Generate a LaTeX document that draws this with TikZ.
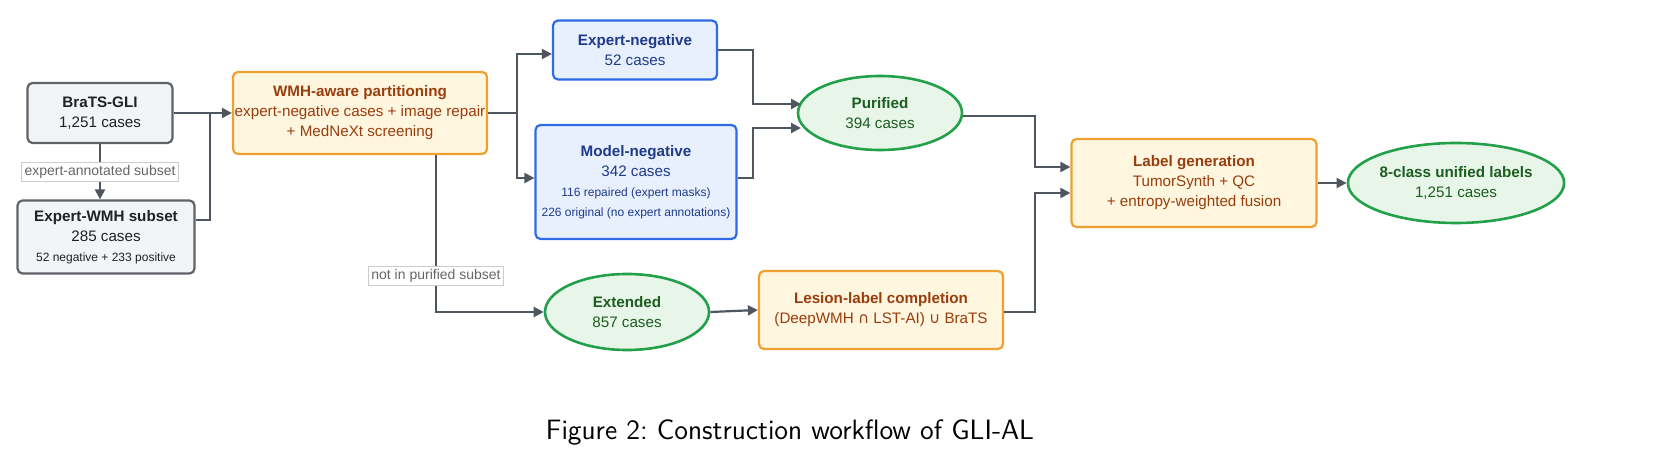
\documentclass[tikz,border=0pt]{standalone}
\usepackage{fontspec}
\setmainfont{Liberation Sans}
\newfontfamily\djv{DejaVu Sans}
\usetikzlibrary{arrows.meta,shapes.geometric}
\definecolor{gline}{HTML}{5F6368}
\definecolor{gfill}{HTML}{F3F4F6}
\definecolor{gtext}{HTML}{202124}
\definecolor{oline}{HTML}{F0A030}
\definecolor{ofill}{HTML}{FEF6DE}
\definecolor{otext}{HTML}{9A3D0E}
\definecolor{bline}{HTML}{2F6BE6}
\definecolor{bfill}{HTML}{E8F0FE}
\definecolor{btext}{HTML}{1E3A8A}
\definecolor{eline}{HTML}{22A04A}
\definecolor{efill}{HTML}{E8F5E9}
\definecolor{etext}{HTML}{1B5E20}
\definecolor{arr}{HTML}{50565F}
\begin{document}
\begin{tikzpicture}[x=0.5pt,y=-0.5pt,
  base/.style={draw,line width=1.1pt,rounded corners=2.5pt,align=center,inner sep=0pt,font=\fontsize{7.6}{10}\selectfont},
  gbox/.style={base,draw=gline,fill=gfill,text=gtext},
  obox/.style={base,draw=oline,fill=ofill,text=otext},
  bbox/.style={base,draw=bline,fill=bfill,text=btext},
  ell/.style={ellipse,draw=eline,fill=efill,text=etext,line width=1.3pt,align=center,inner sep=0pt,font=\fontsize{7.6}{10}\selectfont},
  con/.style={draw=arr,line width=1.1pt,-{Triangle[length=5pt,width=5pt]}},
  lab/.style={fill=white,draw=gray!40,line width=0.4pt,inner sep=1.5pt,text=gray!80!black,font=\fontsize{7}{9}\selectfont}]
\useasboundingbox (0,0) rectangle (1657,464);
\node[gbox,minimum width=72.5pt,minimum height=30pt] (brats) at (100,113) {\textbf{BraTS-GLI}\\1,251 cases};
\node[gbox,minimum width=88.5pt,minimum height=36.5pt] (ewmh) at (106,237) {\textbf{Expert-WMH subset}\\285 cases\\{\fontsize{6}{8.5}\selectfont 52 negative + 233 positive}};
\node[obox,minimum width=127pt,minimum height=41pt] (wmh) at (360,113) {\textbf{WMH-aware partitioning}\\expert-negative cases + image repair\\+ MedNeXt screening};
\node[bbox,minimum width=82pt,minimum height=29.5pt] (eneg) at (635,50) {\textbf{Expert-negative}\\52 cases};
\node[bbox,minimum width=100.5pt,minimum height=57pt] (mneg) at (636,182) {\textbf{Model-negative}\\342 cases\\{\fontsize{6}{8.5}\selectfont 116 repaired (expert masks)}\\{\fontsize{6}{8.5}\selectfont 226 original (no expert annotations)}};
\node[ell,minimum width=82pt,minimum height=37pt] (pur) at (880,113) {\textbf{Purified}\\394 cases};
\node[obox,minimum width=122.5pt,minimum height=44pt] (lgen) at (1194,183) {\textbf{Label generation}\\TumorSynth + QC\\+ entropy-weighted fusion};
\node[ell,minimum width=87pt,minimum height=40pt] (cls) at (1456,183) {\textbf{8-class unified labels}\\1,251 cases};
\node[ell,minimum width=82pt,minimum height=38pt] (ext) at (627,312) {\textbf{Extended}\\857 cases};
\node[obox,minimum width=122pt,minimum height=39pt] (les) at (881,310) {\textbf{Lesion-label completion}\\(DeepWMH {\djv ∩} LST-AI) {\djv ∪} BraTS};
\node[font=\sffamily\fontsize{14}{16}\selectfont] (cap) at (790,432) {Figure 2:\ Construction workflow of GLI-AL};
\coordinate (j1) at (210,113);
\draw[con] (brats.east) -- (wmh.west);
\draw[draw=arr,line width=1.1pt] (ewmh.east |- 0,220) -- (210,220) -- (j1);
\draw[con] (brats.south) -- node[lab]{expert-annotated subset} (ewmh.north -| brats.south);
\draw[con] (wmh.east) -- (517,113) |- (eneg.west |- 0,54);
\draw[con] (517,113) |- (mneg.west |- 0,178);
\draw[con] (eneg.east) -- (753,50) |- (801,104);
\draw[con] (mneg.east |- 0,178) -- (753,178) |- (801,128);
\draw[con] (pur.east |- 0,116) -- (1035,116) |- (lgen.west |- 0,167);
\draw[con] (les.east |- 0,312) -- (1035,312) |- (lgen.west |- 0,193);
\draw[con] (lgen.east) -- (cls.west);
\draw[con] (wmh.south -| 436,0) -- (436,312) -- (ext.west);
\node[lab] (np) at (436,276) {not in purified subset};
\draw[con] (ext.east) -- (les.west);
\end{tikzpicture}
\end{document}
